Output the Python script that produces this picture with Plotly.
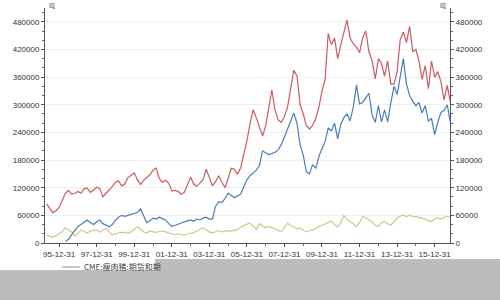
import pandas as pd
import plotly.graph_objects as go

# bi-monthly sample dates, 1995-05 .. 2016-11
dates = pd.date_range("1995-05-01", "2016-11-01", freq="2MS")

red_k = [85, 75, 66, 70, 77, 92, 108, 114, 106, 108,
         112, 108, 118, 119, 110, 115, 121, 118, 100, 108,
         115, 123, 132, 135, 124, 128, 142, 148, 152, 138,
         127, 136, 143, 148, 158, 163, 140, 132, 136, 130,
         113, 114, 112, 106, 110, 126, 143, 128, 123, 130,
         138, 160, 142, 124, 133, 146, 132, 120, 140, 162,
         160, 149, 163, 190, 222, 258, 289, 272, 253, 232,
         255, 292, 332, 289, 267, 262, 275, 295, 335, 375,
         362, 300, 280, 255, 247, 255, 270, 295, 330, 355,
         455, 430, 445, 400, 430, 460, 484, 445, 432, 425,
         413, 445, 460, 415, 395, 356, 400, 390, 362, 395,
         345, 345, 372, 441, 458, 435, 470, 415, 420, 395,
         355, 385, 335, 395, 360, 372, 350, 310, 342, 305]

blue_k = [None, None, None, None, None, None, 3, 8, 18, 28,
          36, 40, 46, 50, 44, 40, 46, 50, 42, 39,
          35, 40, 50, 56, 60, 58, 60, 62, 63, 66,
          74, 58, 44, 48, 54, 52, 56, 53, 50, 42,
          36, 38, 41, 44, 46, 48, 50, 47, 52, 50,
          54, 56, 52, 52, 80, 89, 88, 96, 108, 103,
          98, 102, 106, 122, 137, 146, 153, 158, 168, 200,
          196, 192, 194, 197, 202, 214, 230, 246, 265, 282,
          260, 213, 190, 155, 150, 170, 162, 188, 205, 220,
          250, 243, 260, 226, 258, 272, 280, 265, 295, 343,
          302, 305, 315, 325, 278, 262, 298, 263, 289, 263,
          305, 340, 322, 365, 400, 345, 320, 308, 298, 305,
          282, 298, 265, 270, 235, 262, 283, 288, 300, 262]

yellow_k = [17, 15, 13, 16, 20, 25, 33, 28, 24, 15,
            21, 28, 25, 22, 26, 27, 28, 24, 28, 32,
            24, 18, 20, 22, 23, 23, 21, 24, 30, 35,
            30, 24, 22, 26, 24, 23, 25, 26, 24, 22,
            20, 18, 20, 18, 17, 20, 21, 22, 26, 30,
            33, 28, 24, 22, 25, 27, 24, 26, 27, 26,
            28, 29, 34, 38, 41, 43, 36, 30, 42, 38,
            33, 36, 34, 31, 27, 26, 34, 43, 38, 35,
            31, 32, 27, 24, 27, 28, 32, 35, 38, 42,
            45, 48, 40, 35, 44, 60, 52, 46, 42, 36,
            44, 58, 55, 50, 46, 38, 36, 44, 47, 42,
            39, 46, 55, 58, 61, 57, 61, 57, 58, 55,
            54, 52, 48, 47, 52, 55, 52, 56, 58, 56]

def scale(v):
    return [None if x is None else x * 1000 for x in v]

y_ticks = list(range(0, 480001, 60000))
x_tick_vals = [f"{y}-12-31" for y in range(1995, 2016, 2)]
x_tick_text = [f"{str(y)[2:]}-12-31" for y in range(1995, 2016, 2)]
x_minor_vals = [f"{y}-12-31" for y in range(1994, 2017, 2)]
legend_text = "CME:瘦肉猪:期货和期"
unit_text = "吨"

fig = go.Figure()
fig.add_trace(go.Scatter(x=dates, y=scale(yellow_k), mode="lines",
                         line=dict(color="#c8c98c", width=1.2)))
fig.add_trace(go.Scatter(x=dates, y=scale(blue_k), mode="lines",
                         line=dict(color="#4a7db8", width=1.2)))
fig.add_trace(go.Scatter(x=dates, y=scale(red_k), mode="lines",
                         line=dict(color="#cc5b60", width=1.2)))
fig.add_trace(go.Scatter(x=[dates[0]], y=[None], yaxis="y2", mode="lines",
                         hoverinfo="skip"))

tickfont = dict(family="Liberation Sans, Arial", size=8, color="#333333")
yaxis_common = dict(
    range=[0, 510000], tickvals=y_ticks, ticktext=[str(v) for v in y_ticks],
    ticks="outside", ticklen=3, tickcolor="#555555", tickwidth=1,
    showline=True, linecolor="#555555", linewidth=1,
    tickfont=tickfont, zeroline=False,
    minor=dict(dtick=20000, tick0=0, ticks="outside", ticklen=2,
               tickcolor="#666666", showgrid=False),
)

fig.update_layout(
    width=500, height=300,
    margin=dict(l=45, r=50, t=8, b=57),
    paper_bgcolor="white", plot_bgcolor="white",
    showlegend=False,
    xaxis=dict(
        type="date", range=["1995-04-01", "2016-10-25"],
        tickvals=x_tick_vals, ticktext=x_tick_text,
        ticks="outside", ticklen=3, tickcolor="#555555",
        showline=True, linecolor="#555555", linewidth=1,
        showgrid=False, tickfont=tickfont, tickangle=0,
        minor=dict(tickvals=x_minor_vals, ticks="outside", ticklen=2,
                   tickcolor="#666666", showgrid=False),
    ),
    yaxis=dict(**yaxis_common, showgrid=True, gridcolor="#efefef", gridwidth=1),
    yaxis2=dict(**yaxis_common, overlaying="y", side="right", showgrid=False),
    shapes=[
        dict(type="rect", xref="paper", yref="paper",
             x0=-0.12, x1=1.13, y0=-0.25, y1=-0.1149,
             fillcolor="#bcbcbc", line=dict(width=0), layer="above"),
        dict(type="rect", xref="paper", yref="paper",
             x0=0.2716, x1=1.13, y0=-0.1149, y1=-0.068,
             fillcolor="#bcbcbc", line=dict(width=0), layer="above"),
        dict(type="line", xref="paper", yref="paper",
             x0=0.042, x1=0.086, y0=-0.102, y1=-0.102,
             line=dict(color="#8c8c8c", width=1)),
    ],
    annotations=[
        dict(text=legend_text, xref="paper", yref="paper", x=0.091, y=-0.102,
             xanchor="left", yanchor="middle", showarrow=False,
             font=dict(family="Noto Sans CJK SC", size=8, color="#444444")),
        dict(text=unit_text, xref="paper", yref="paper", x=0.005, y=1.01,
             xanchor="left", yanchor="middle", showarrow=False,
             font=dict(family="Noto Sans CJK SC", size=6, color="#555555")),
        dict(text=unit_text, xref="paper", yref="paper", x=0.995, y=1.01,
             xanchor="right", yanchor="middle", showarrow=False,
             font=dict(family="Noto Sans CJK SC", size=6, color="#555555")),
    ],
)

fig.write_html("out.html")
